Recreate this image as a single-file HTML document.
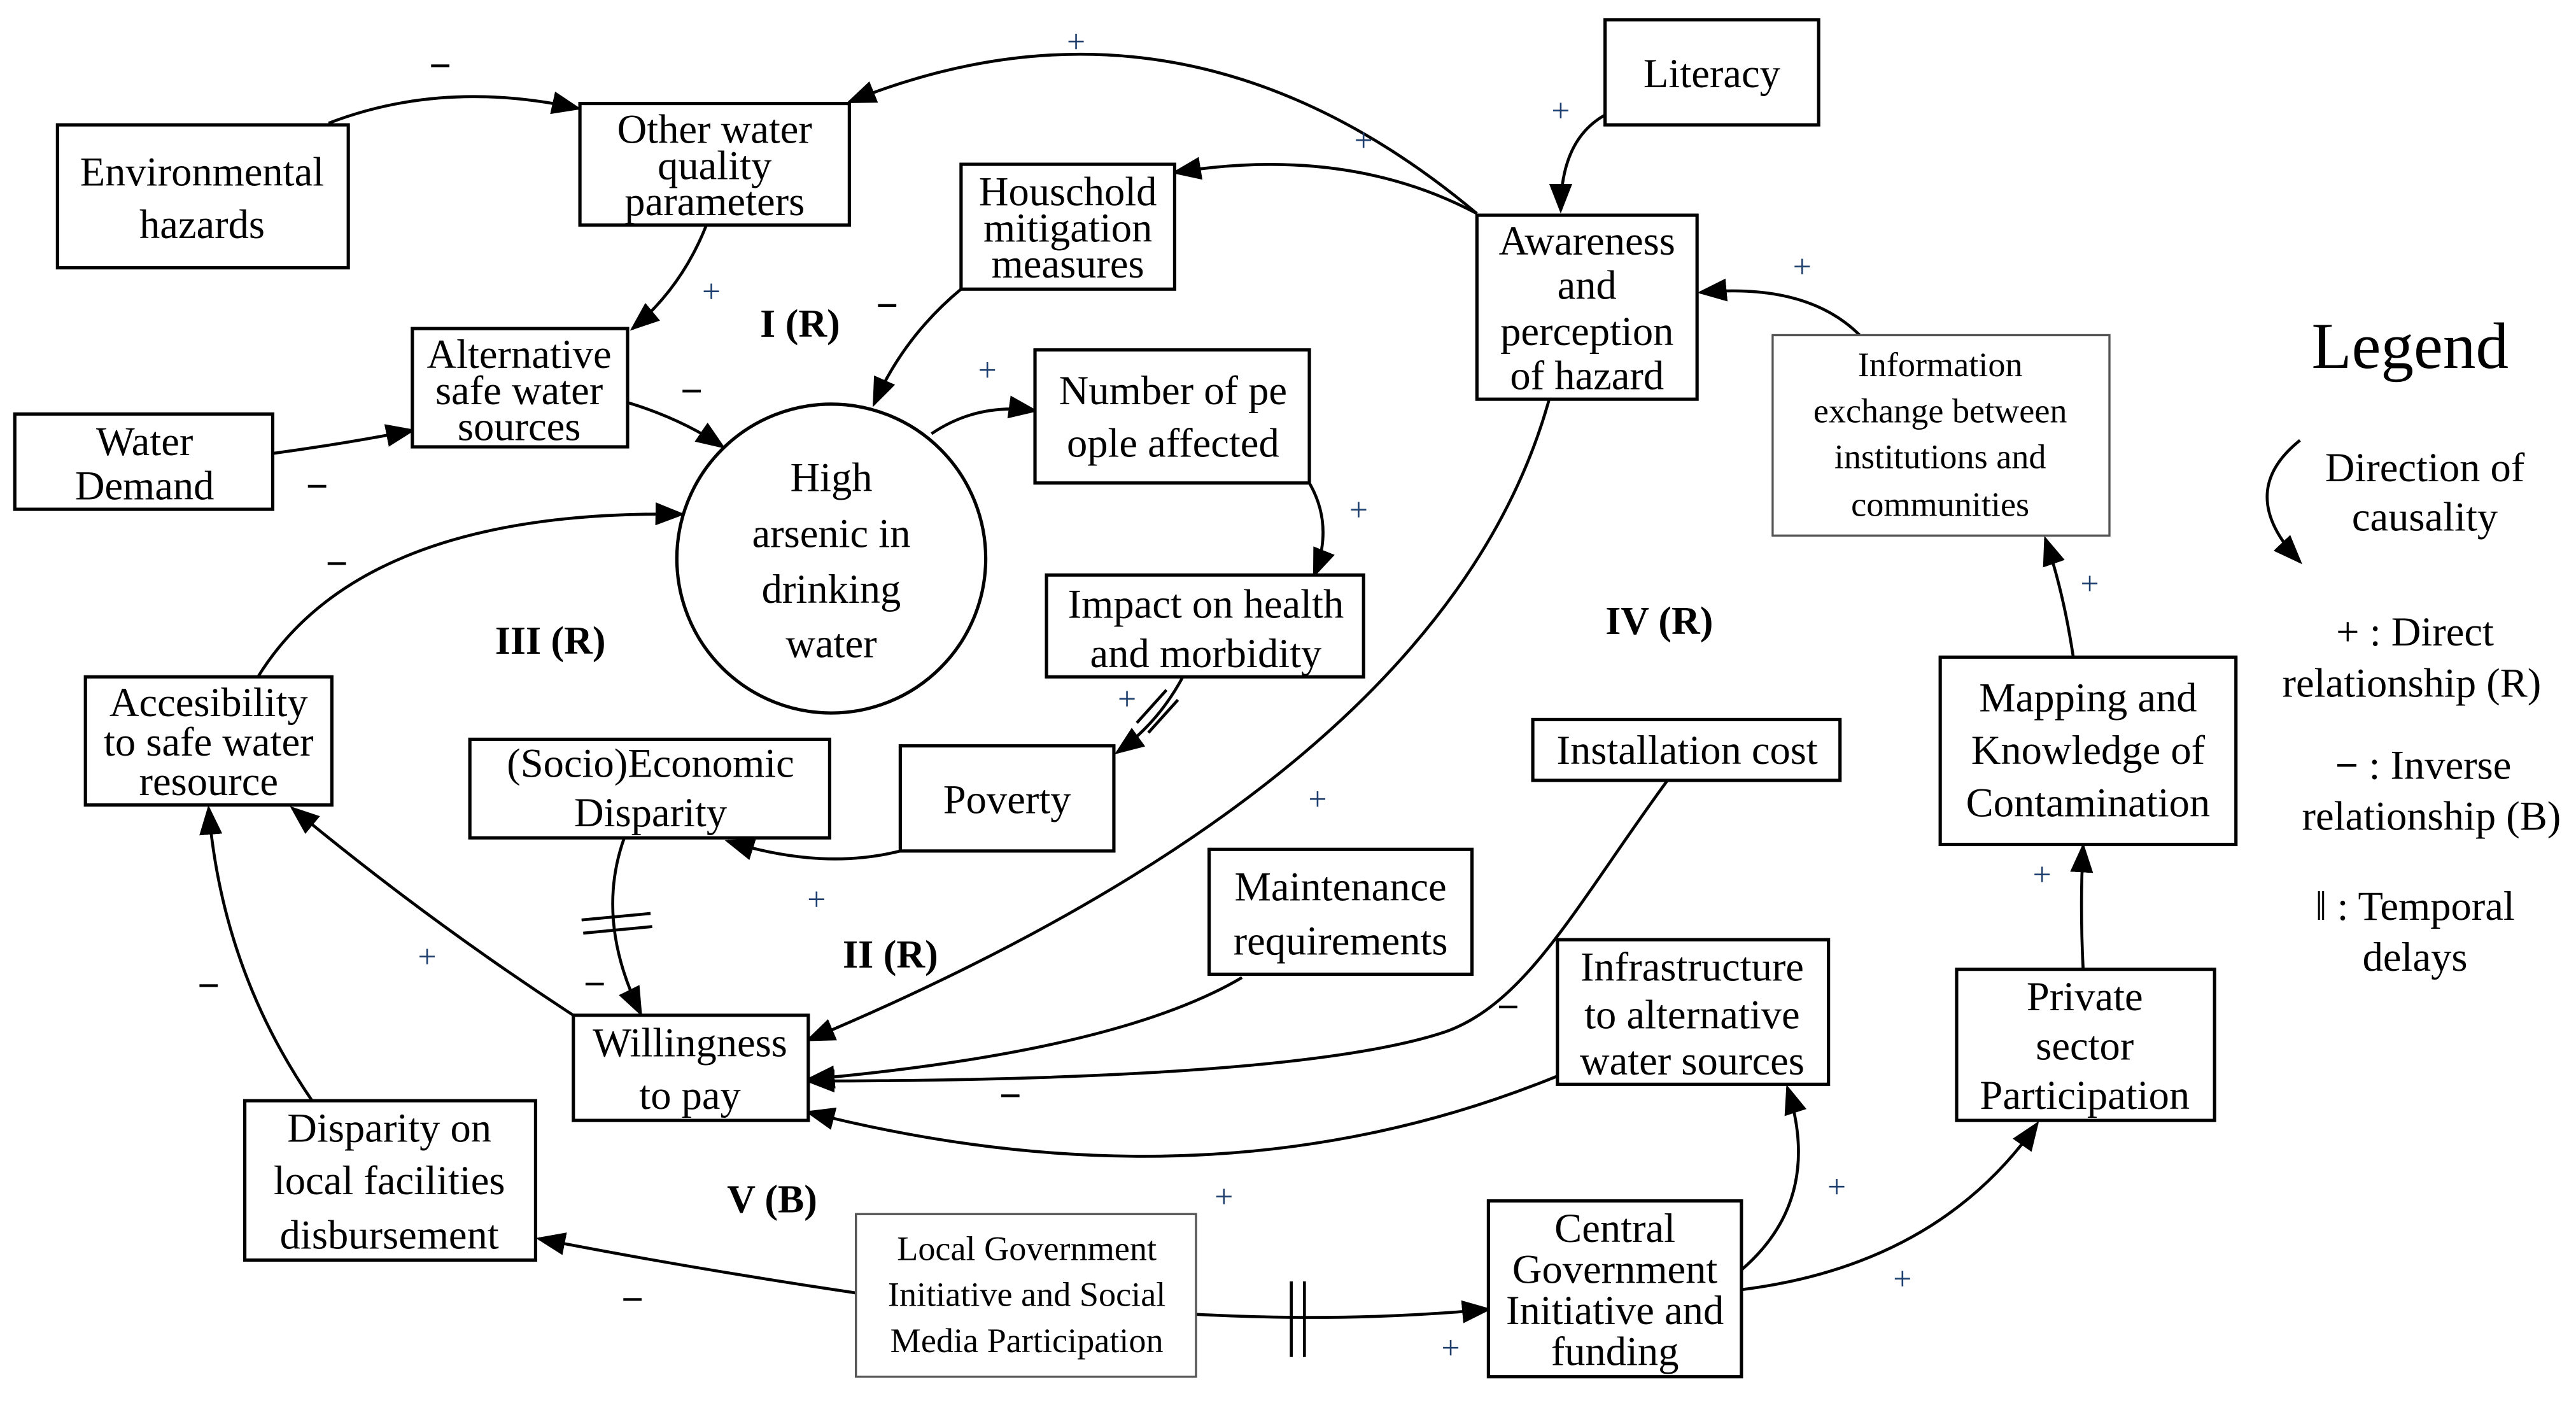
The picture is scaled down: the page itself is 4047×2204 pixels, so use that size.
<!DOCTYPE html>
<html><head><meta charset="utf-8"><style>
html,body{margin:0;padding:0;background:#fff;}
svg{display:block;}
text{font-family:"Liberation Serif",serif;fill:#000;}
.b{fill:#fff;stroke:#000;stroke-width:2;}
.g{fill:#fff;stroke:#555;stroke-width:1.3;}
.t{font-size:25px;text-anchor:middle;}
.s{font-size:21px;text-anchor:middle;}
.a{fill:none;stroke:#000;stroke-width:1.8;}
.p{font-size:20px;fill:#1f3f6f;text-anchor:middle;}
.m{font-size:24px;font-weight:bold;text-anchor:middle;}
.L{font-size:24px;font-weight:bold;text-anchor:middle;}
</style></head><body>
<svg width="4047" height="2204" viewBox="0 0 1568 854" preserveAspectRatio="none" xmlns="http://www.w3.org/2000/svg">
<defs>
<marker id="ah2" markerWidth="18" markerHeight="14" refX="16" refY="7" orient="auto" markerUnits="userSpaceOnUse"><path d="M0,0 L18,7 L0,14 Z" fill="#000"/></marker></defs>
<style>.a{marker-end:url(#ah2);}</style>

<path class="a" d="M200,75 Q270,48 352,66"/>
<path class="a" d="M899,130 Q720,-20 517,62"/>
<path class="a" d="M977,70 Q950,85 950,128"/>
<path class="a" d="M899,130 Q820,88 715,105"/>
<path class="a" d="M430,137 Q415,175 385,200"/>
<path class="a" d="M585,176 Q550,205 532,246"/>
<path class="a" d="M166,276 Q210,270 251,262"/>
<path class="a" d="M382,245 Q415,255 440,272"/>
<path class="a" d="M567,264 Q595,245 630,250"/>
<path class="a" d="M797,294 Q812,320 800,350"/>
<path class="a" d="M720,412 Q705,440 680,458"/>
<path class="a" d="M548,518 Q500,530 443,512"/>
<path class="a" d="M380,510 Q362,560 390,617"/>
<path class="a" d="M157,412 Q220,310 415,313"/>
<path class="a" d="M349,618 Q260,560 178,492"/>
<path class="a" d="M190,670 Q135,590 127,492"/>
<path class="a" d="M943,243 Q880,470 492,633"/>
<path class="a" d="M756,595 Q680,640 492,657"/>
<path class="a" d="M1015,475 C960,550 930,610 880,628 C800,655 600,658 492,658"/>
<path class="a" d="M948,655 Q740,740 492,677"/>
<path class="a" d="M521,787 Q420,772 328,754"/>
<path class="a" d="M728,800 Q820,805 906,797"/>
<path class="a" d="M1060,773 Q1110,730 1088,662"/>
<path class="a" d="M1060,785 Q1180,770 1240,684"/>
<path class="a" d="M1268,590 Q1266,550 1268,515"/>
<path class="a" d="M1262,400 Q1256,360 1245,328"/>
<path class="a" d="M1132,204 Q1100,172 1035,178"/>
<path class="a" d="M1400,268 Q1360,300 1400,342"/>
<path d="M692,440 L710,420 M699,446 L717,426" stroke="#000" stroke-width="1.8"/>
<path d="M354,560 L396,556 M355,568 L397,564" stroke="#000" stroke-width="1.8"/>
<path d="M786,780 L786,826 M794,780 L794,826" stroke="#000" stroke-width="1.8"/>

<rect class="b" x="35" y="76" width="177" height="87"/>
<text class="t" x="123" y="113">Environmental</text><text class="t" x="123" y="145">hazards</text>
<rect class="b" x="353" y="63" width="164" height="74"/>
<text class="t" x="435" y="87">Other water</text><text class="t" x="435" y="109">quality</text><text class="t" x="435" y="131">parameters</text>
<rect class="b" x="977" y="12" width="130" height="64"/>
<text class="t" x="1042" y="53">Literacy</text>
<rect class="b" x="585" y="100" width="130" height="76"/>
<text class="t" x="650" y="125">Houschold</text><text class="t" x="650" y="147">mitigation</text><text class="t" x="650" y="169">measures</text>
<rect class="b" x="899" y="131" width="134" height="112"/>
<text class="t" x="966" y="155">Awareness</text><text class="t" x="966" y="182">and</text><text class="t" x="966" y="210">perception</text><text class="t" x="966" y="237">of hazard</text>
<rect class="b" x="251" y="200" width="131" height="72"/>
<text class="t" x="316" y="224">Alternative</text><text class="t" x="316" y="246">safe water</text><text class="t" x="316" y="268">sources</text>
<rect class="b" x="9" y="252" width="157" height="58"/>
<text class="t" x="88" y="277">Water</text><text class="t" x="88" y="304">Demand</text>
<circle class="b" cx="506" cy="340" r="94"/>
<text class="t" x="506" y="299">High</text><text class="t" x="506" y="333">arsenic in</text><text class="t" x="506" y="367">drinking</text><text class="t" x="506" y="400">water</text>
<rect class="b" x="630" y="213" width="167" height="81"/>
<text class="t" x="714" y="246">Number of pe</text><text class="t" x="714" y="278">ople affected</text>
<rect class="g" x="1079" y="204" width="205" height="122"/>
<text class="s" x="1181" y="229">Information</text><text class="s" x="1181" y="257">exchange between</text><text class="s" x="1181" y="285">institutions and</text><text class="s" x="1181" y="314">communities</text>
<rect class="b" x="637" y="350" width="193" height="62"/>
<text class="t" x="734" y="376">Impact on health</text><text class="t" x="734" y="406">and morbidity</text>
<rect class="b" x="52" y="412" width="150" height="78"/>
<text class="t" x="127" y="436">Accesibility</text><text class="t" x="127" y="460">to safe water</text><text class="t" x="127" y="484">resource</text>
<rect class="b" x="286" y="450" width="219" height="60"/>
<text class="t" x="396" y="473">(Socio)Economic</text><text class="t" x="396" y="503">Disparity</text>
<rect class="b" x="548" y="454" width="130" height="64"/>
<text class="t" x="613" y="495">Poverty</text>
<rect class="b" x="933" y="438" width="187" height="37"/>
<text class="t" x="1027" y="465">Installation cost</text>
<rect class="b" x="1181" y="400" width="180" height="114"/>
<text class="t" x="1271" y="433">Mapping and</text><text class="t" x="1271" y="465">Knowledge of</text><text class="t" x="1271" y="497">Contamination</text>
<rect class="b" x="736" y="517" width="160" height="76"/>
<text class="t" x="816" y="548">Maintenance</text><text class="t" x="816" y="581">requirements</text>
<rect class="b" x="948" y="572" width="165" height="88"/>
<text class="t" x="1030" y="597">Infrastructure</text><text class="t" x="1030" y="626">to alternative</text><text class="t" x="1030" y="654">water sources</text>
<rect class="b" x="349" y="618" width="143" height="64"/>
<text class="t" x="420" y="643">Willingness</text><text class="t" x="420" y="675">to pay</text>
<rect class="b" x="1191" y="590" width="157" height="92"/>
<text class="t" x="1269" y="615">Private</text><text class="t" x="1269" y="645">sector</text><text class="t" x="1269" y="675">Participation</text>
<rect class="b" x="149" y="670" width="177" height="97"/>
<text class="t" x="237" y="695">Disparity on</text><text class="t" x="237" y="727">local facilities</text><text class="t" x="237" y="760">disbursement</text>
<rect class="g" x="521" y="739" width="207" height="99"/>
<text class="s" x="625" y="767">Local Government</text><text class="s" x="625" y="795">Initiative and Social</text><text class="s" x="625" y="823">Media Participation</text>
<rect class="b" x="906" y="731" width="154" height="107"/>
<text class="t" x="983" y="756">Central</text><text class="t" x="983" y="781">Government</text><text class="t" x="983" y="806">Initiative and</text><text class="t" x="983" y="831">funding</text>

<text class="L" x="487" y="205">I (R)</text>
<text class="L" x="335" y="398">III (R)</text>
<text class="L" x="1010" y="386">IV (R)</text>
<text class="L" x="542" y="589">II (R)</text>
<text class="L" x="470" y="738">V (B)</text>

<text class="m" x="268" y="48">−</text>
<text class="p" x="655" y="32">+</text>
<text class="p" x="950" y="74">+</text>
<text class="p" x="830" y="92">+</text>
<text class="p" x="433" y="184">+</text>
<text class="m" x="540" y="194">−</text>
<text class="m" x="193" y="304">−</text>
<text class="m" x="421" y="246">−</text>
<text class="p" x="601" y="232">+</text>
<text class="p" x="827" y="317">+</text>
<text class="p" x="686" y="432">+</text>
<text class="p" x="497" y="554">+</text>
<text class="m" x="362" y="607">−</text>
<text class="m" x="205" y="351">−</text>
<text class="p" x="260" y="589">+</text>
<text class="m" x="127" y="608">−</text>
<text class="p" x="802" y="493">+</text>
<text class="m" x="918" y="621">−</text>
<text class="m" x="615" y="675">−</text>
<text class="m" x="385" y="799">−</text>
<text class="p" x="745" y="735">+</text>
<text class="p" x="883" y="827">+</text>
<text class="p" x="1118" y="729">+</text>
<text class="p" x="1158" y="785">+</text>
<text class="p" x="1243" y="539">+</text>
<text class="p" x="1272" y="362">+</text>
<text class="p" x="1097" y="169">+</text>

<text x="1467" y="224" style="font-size:40px;text-anchor:middle">Legend</text>
<text class="t" x="1476" y="293">Direction of</text><text class="t" x="1476" y="323">causality</text>
<text class="t" x="1470" y="393">+ : Direct</text><text class="t" x="1468" y="424">relationship (R)</text>
<text class="t" x="1475" y="474"><tspan font-weight="bold">−</tspan> : Inverse</text><text class="t" x="1480" y="505">relationship (B)</text>
<text class="t" x="1470" y="560">‖ : Temporal</text><text class="t" x="1470" y="591">delays</text>
</svg>
</body></html>
